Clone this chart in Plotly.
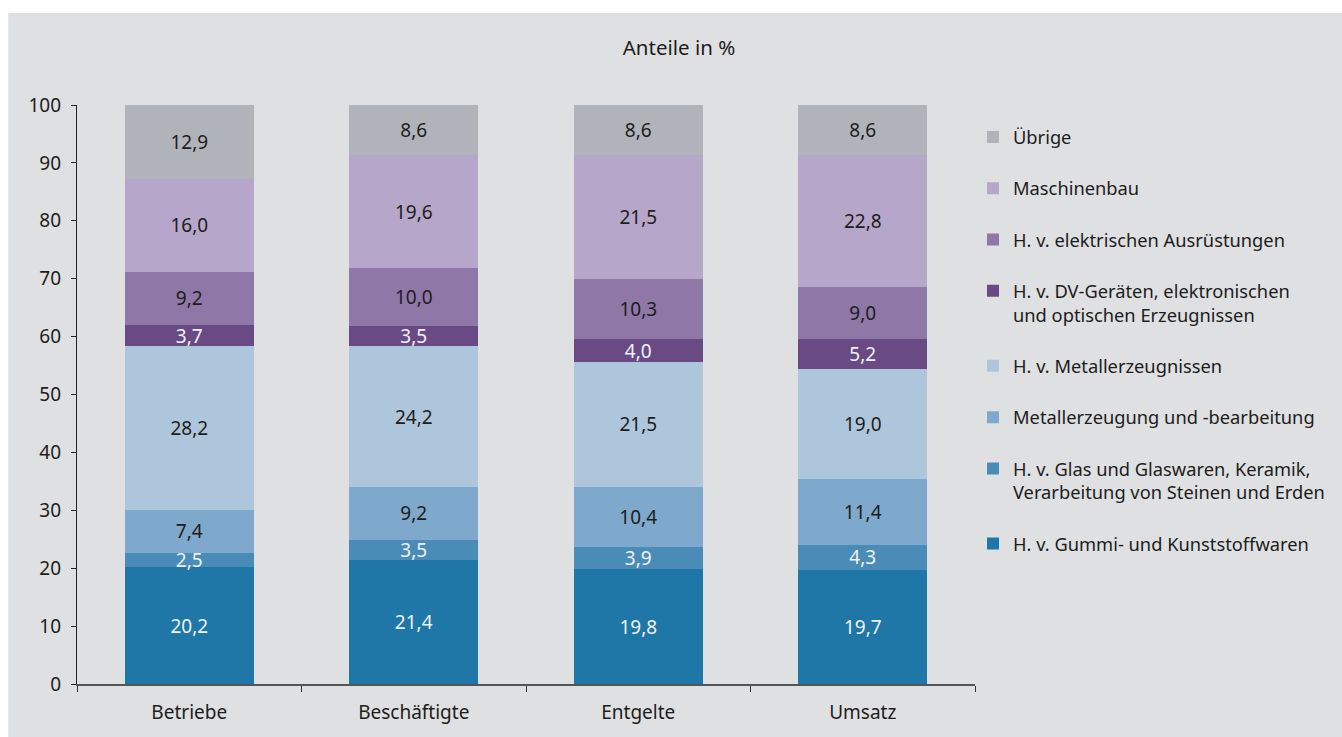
import plotly.graph_objects as go

categories = ["Betriebe", "Beschäftigte", "Entgelte", "Umsatz"]

series_names = [
    "H. v. Gummi- und Kunststoffwaren",
    "H. v. Glas und Glaswaren, Keramik,<br>Verarbeitung von Steinen und Erden",
    "Metallerzeugung und -bearbeitung",
    "H. v. Metallerzeugnissen",
    "H. v. DV-Geräten, elektronischen<br>und optischen Erzeugnissen",
    "H. v. elektrischen Ausrüstungen",
    "Maschinenbau",
    "Übrige",
]

gummi = [20.2, 21.4, 19.8, 19.7]
glas = [2.5, 3.5, 3.9, 4.3]
metallerzeugung = [7.4, 9.2, 10.4, 11.4]
metallerzeugnisse = [28.2, 24.2, 21.5, 19.0]
dv_geraete = [3.7, 3.5, 4.0, 5.2]
elektrisch = [9.2, 10.0, 10.3, 9.0]
maschinenbau = [16.0, 19.6, 21.5, 22.8]
uebrige = [12.9, 8.6, 8.6, 8.6]

series_values = [gummi, glas, metallerzeugung, metallerzeugnisse,
                 dv_geraete, elektrisch, maschinenbau, uebrige]

colors = ["#1f77a8", "#4a8cb8", "#7ea9cc", "#adc6dc",
          "#6a4a85", "#8f77a8", "#b6a6c9", "#b1b3bb"]
label_colors = ["#eef2f5", "#eef2f5", "#1d1d1b", "#1d1d1b",
                "#eef2f5", "#1d1d1b", "#1d1d1b", "#1d1d1b"]

FONT = "Noto Sans"
FS = 19
LFS = 18.3
DARK = "#1d1d1b"
PANEL = "#dfe0e2"

fig = go.Figure()
n = len(series_names)
for i, (name, vals) in enumerate(zip(series_names, series_values)):
    fig.add_trace(go.Bar(
        x=categories, y=vals, name=name,
        marker=dict(color=colors[i], line=dict(width=0)),
        text=[f"{v:.1f}".replace(".", ",") for v in vals],
        textposition="inside", insidetextanchor="middle", textangle=0,
        textfont=dict(family=FONT, size=FS, color=label_colors[i]),
        legendgroup=f"g{i}", legendrank=100 + (n - i),
        hoverinfo="skip",
    ))

fig.update_layout(
    width=1342, height=737,
    barmode="stack", bargap=0.427,
    paper_bgcolor="white", plot_bgcolor=PANEL,
    margin=dict(l=77, r=364, t=105, b=53, pad=0),
    font=dict(family=FONT, size=FS, color=DARK),
    uniformtext=dict(minsize=FS, mode="show"),
    title=dict(text="Anteile in %", x=679 / 1342, xref="container", xanchor="center",
               y=1 - 48 / 737, yref="container", yanchor="middle",
               font=dict(family=FONT, size=20.5, color=DARK)),
    showlegend=True,
    legend=dict(x=(976 - 77) / 901, xanchor="left", y=(684 - 118.5) / 579, yanchor="top",
                traceorder="grouped", tracegroupgap=24.5,
                bgcolor="rgba(0,0,0,0)", valign="top", borderwidth=0,
                font=dict(family=FONT, size=LFS, color=DARK)),
    shapes=[dict(type="rect", xref="paper", yref="paper", layer="below",
                 x0=(8 - 77) / 901, x1=(1342 - 77) / 901 + 0.01,
                 y0=(684 - 737) / 579 - 0.01, y1=(684 - 13) / 579,
                 fillcolor=PANEL, line=dict(width=0))],
)

fig.update_xaxes(
    range=[-0.5, 3.5], showgrid=False, zeroline=False,
    showline=True, linecolor="#555555", linewidth=1.5,
    ticks="outside", tickson="boundaries", ticklen=6, tickcolor="#333333", tickwidth=1,
    ticklabelstandoff=10,
    tickfont=dict(family=FONT, size=FS, color=DARK),
)
fig.update_yaxes(
    range=[0, 100], dtick=10, showgrid=False, zeroline=False,
    showline=True, linecolor="#222222", linewidth=1.2,
    ticks="outside", ticklen=5, tickcolor="#222222", tickwidth=1,
    ticklabelstandoff=6,
    tickfont=dict(family=FONT, size=FS, color=DARK),
)

fig.write_html("out.html")
